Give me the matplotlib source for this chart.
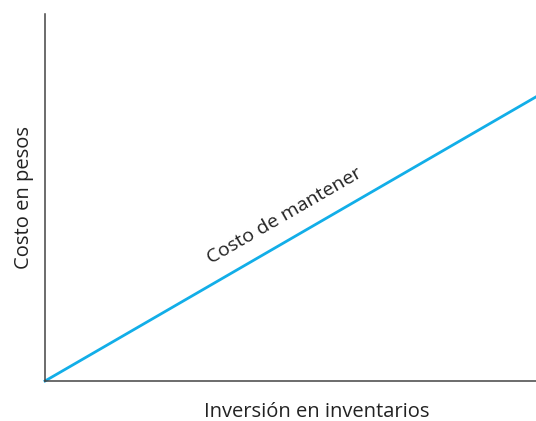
import matplotlib.pyplot as plt

# inversión (x) vs costo de mantener (y), arbitrary units
inversion = [0, 10]
costo = [0, 7.74]

plt.rcParams['font.family'] = ['Open Sans', 'DejaVu Sans']

fig = plt.figure(figsize=(5.36, 4.21), dpi=100)
ax = fig.add_axes([0.084, 0.095, 0.916, 0.872])

ax.plot(inversion, costo, color='#12aee8', lw=2, clip_on=False)
ax.set_xlim(0, 10)
ax.set_ylim(0, 10)

for side in ('top', 'right'):
    ax.spines[side].set_visible(False)
for side in ('left', 'bottom'):
    ax.spines[side].set_color('#444444')
    ax.spines[side].set_linewidth(1.1)
ax.set_xticks([])
ax.set_yticks([])

ax.set_xlabel('Inversión en inventarios', fontsize=14.5, color='#222222')
ax.xaxis.set_label_coords(0.554, -0.058)
ax.set_ylabel('Costo en pesos', fontsize=14.5, color='#222222', labelpad=8)

ax.text(4.97, 4.3, 'Costo de mantener', fontsize=14, color='#222222',
        rotation=30, rotation_mode='anchor', ha='center', va='bottom')

fig.savefig('out.png', dpi=100)
